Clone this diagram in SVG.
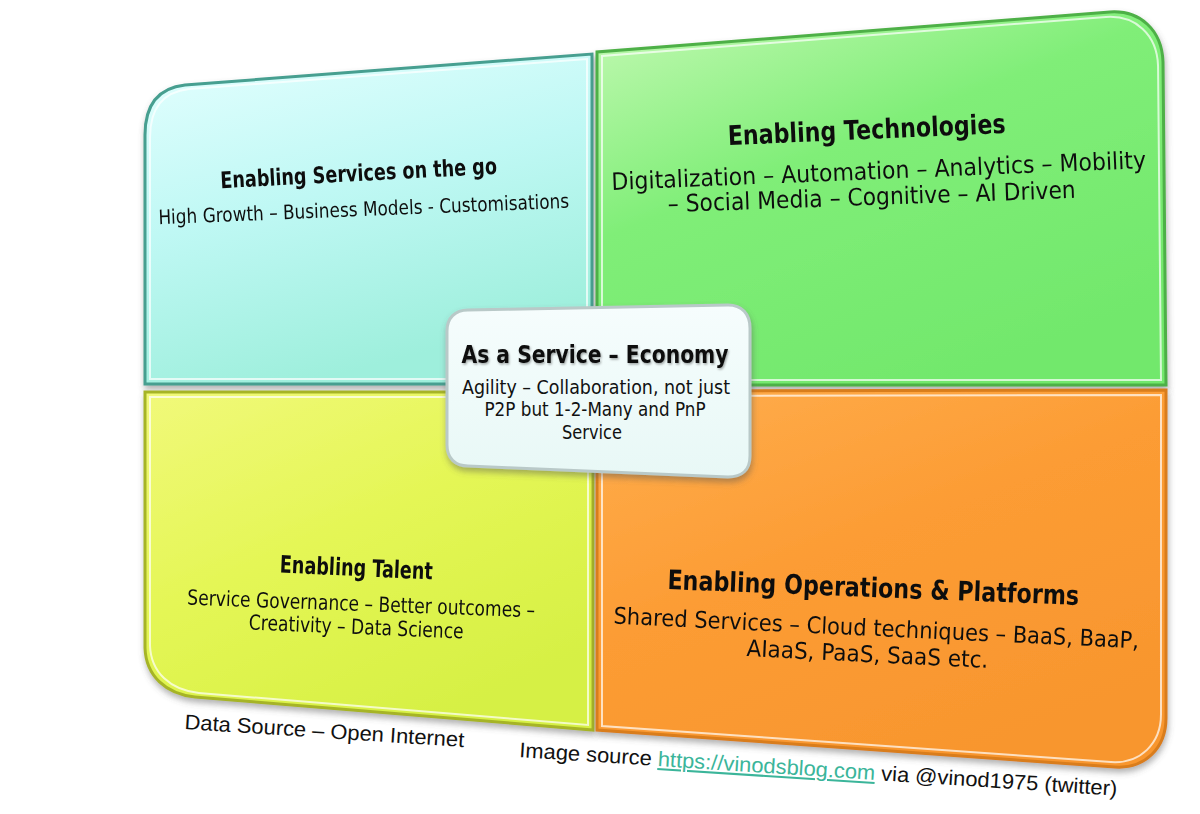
<svg xmlns="http://www.w3.org/2000/svg" width="1200" height="814" viewBox="0 0 1200 814">
  <defs>
    <linearGradient id="gCyan" x1="0" y1="0" x2="0.35" y2="1">
      <stop offset="0" stop-color="#e4ffff"/>
      <stop offset="0.5" stop-color="#bff8f4"/>
      <stop offset="1" stop-color="#9eefdc"/>
    </linearGradient>
    <linearGradient id="gGreen" x1="0" y1="0" x2="0.6" y2="1">
      <stop offset="0" stop-color="#c4f9b4"/>
      <stop offset="0.45" stop-color="#80ee78"/>
      <stop offset="1" stop-color="#72e86c"/>
    </linearGradient>
    <linearGradient id="gYellow" x1="0" y1="0" x2="0.6" y2="1">
      <stop offset="0" stop-color="#f1f97a"/>
      <stop offset="0.5" stop-color="#e4f655"/>
      <stop offset="1" stop-color="#d6f044"/>
    </linearGradient>
    <linearGradient id="gOrange" x1="0" y1="0" x2="0.6" y2="1">
      <stop offset="0" stop-color="#ffae4e"/>
      <stop offset="0.5" stop-color="#fc9c34"/>
      <stop offset="1" stop-color="#f8962e"/>
    </linearGradient>
    <linearGradient id="gCenter" x1="0" y1="0" x2="0" y2="1">
      <stop offset="0" stop-color="#f6fdfd"/>
      <stop offset="1" stop-color="#e8f8f6"/>
    </linearGradient>
    <filter id="shadow" x="-10%" y="-10%" width="120%" height="125%">
      <feDropShadow dx="1" dy="4" stdDeviation="3" flood-color="#555" flood-opacity="0.45"/>
    </filter>
    <filter id="tshadow" x="-5%" y="-20%" width="110%" height="150%">
      <feDropShadow dx="1" dy="1.5" stdDeviation="1" flood-color="#000" flood-opacity="0.35"/>
    </filter>
  </defs>
  <style>
    .hl { fill: none; stroke: #ffffff; stroke-opacity: 0.7; stroke-width: 2; }
    .title { font-family: "DejaVu Sans", "Noto Sans", sans-serif; font-weight: bold; fill: #111; }
    .body { font-family: "DejaVu Sans", "Noto Sans", sans-serif; fill: #111; }
    .cap { font-family: "Liberation Sans", Arial, sans-serif; font-size: 21px; fill: #111; }
    .link { fill: #3bb59a; text-decoration: underline; }
  </style>
  <rect width="1200" height="814" fill="#ffffff"/>

  <g id="connectors"/>

  <g id="node-services" filter="url(#shadow)">
    <path d="M145,384 L145,135 C145,105 158,88 185,85 L592,54 L592,384 Z" fill="url(#gCyan)" stroke="#469f90" stroke-width="3"/>
    <path class="hl" vector-effect="non-scaling-stroke" transform="translate(368.5 219) scale(0.9776 0.9697) translate(-368.5 -219)" d="M145,384 L145,135 C145,105 158,88 185,85 L592,54 L592,384 Z"/>
    <text class="title" font-size="23" x="359" y="181" text-anchor="middle" textLength="277" lengthAdjust="spacingAndGlyphs" transform="rotate(-3 359 181)">Enabling Services on the go</text>
    <text class="body" font-size="20" x="364" y="216" text-anchor="middle" textLength="411" lengthAdjust="spacingAndGlyphs" transform="rotate(-2.3 364 216)">High Growth – Business Models - Customisations</text>
  </g>

  <g id="node-technologies" filter="url(#shadow)">
    <path d="M597,385 L597,52 L1110,12 C1140,10 1162,30 1163,62 L1166,385 Z" fill="url(#gGreen)" stroke="#4eb046" stroke-width="3"/>
    <path class="hl" vector-effect="non-scaling-stroke" transform="translate(881.5 198.5) scale(0.9824 0.9732) translate(-881.5 -198.5)" d="M597,385 L597,52 L1110,12 C1140,10 1162,30 1163,62 L1166,385 Z"/>
    <text class="title" font-size="27" x="867" y="139" text-anchor="middle" textLength="278" lengthAdjust="spacingAndGlyphs" transform="rotate(-2.5 867 139)">Enabling Technologies</text>
    <text class="body" font-size="24" x="879" y="179" text-anchor="middle" textLength="535" lengthAdjust="spacingAndGlyphs" transform="rotate(-2.35 879 179)">Digitalization – Automation – Analytics – Mobility</text>
    <text class="body" font-size="24" x="872" y="205" text-anchor="middle" textLength="408" lengthAdjust="spacingAndGlyphs" transform="rotate(-2 872 205)">– Social Media – Cognitive – AI Driven</text>
  </g>

  <g id="node-talent" filter="url(#shadow)">
    <path d="M145,392 L593,392 L593,730 L195,697 C166,694 146,676 145,648 Z" fill="url(#gYellow)" stroke="#a6b428" stroke-width="3"/>
    <path class="hl" vector-effect="non-scaling-stroke" transform="translate(369 561) scale(0.9777 0.9704) translate(-369 -561)" d="M145,392 L593,392 L593,730 L195,697 C166,694 146,676 145,648 Z"/>
    <text class="title" font-size="24" x="356" y="576" text-anchor="middle" textLength="153" lengthAdjust="spacingAndGlyphs" transform="rotate(2.6 356 576)">Enabling Talent</text>
    <text class="body" font-size="21" x="361" y="611" text-anchor="middle" textLength="348" lengthAdjust="spacingAndGlyphs" transform="rotate(2.1 361 611)">Service Governance – Better outcomes –</text>
    <text class="body" font-size="21" x="356" y="634" text-anchor="middle" textLength="215" lengthAdjust="spacingAndGlyphs" transform="rotate(2.4 356 634)">Creativity – Data Science</text>
  </g>

  <g id="node-operations" filter="url(#shadow)">
    <path d="M597,391 L1166,390 L1166,718 C1166,748 1145,769 1115,767 L597,730 Z" fill="url(#gOrange)" stroke="#d97d1c" stroke-width="3"/>
    <path class="hl" vector-effect="non-scaling-stroke" transform="translate(881.5 579) scale(0.9824 0.9735) translate(-881.5 -579)" d="M597,391 L1166,390 L1166,718 C1166,748 1145,769 1115,767 L597,730 Z"/>
    <text class="title" font-size="27" x="873" y="597" text-anchor="middle" textLength="412" lengthAdjust="spacingAndGlyphs" transform="rotate(2.2 873 597)">Enabling Operations &amp; Platforms</text>
    <text class="body" font-size="23" x="876" y="636" text-anchor="middle" textLength="526" lengthAdjust="spacingAndGlyphs" transform="rotate(2.7 876 636)">Shared Services – Cloud techniques – BaaS, BaaP,</text>
    <text class="body" font-size="23" x="867" y="662" text-anchor="middle" textLength="242" lengthAdjust="spacingAndGlyphs" transform="rotate(2.8 867 662)">AIaaS, PaaS, SaaS etc.</text>
  </g>

  <g id="node-center">
    <path d="M468,310 L728,305 C742,305 750,314 750,328 L750,456 C750,470 742,477 728,477 L468,466 C455,466 447,458 447,445 L447,331 C447,318 455,310 468,310 Z" fill="url(#gCenter)" stroke="#b9c9c8" stroke-width="3" filter="url(#shadow)"/>
    <text class="title" font-size="25" x="595" y="363" text-anchor="middle" textLength="267" lengthAdjust="spacingAndGlyphs" filter="url(#tshadow)">As a Service – Economy</text>
    <text class="body" font-size="19" x="596" y="394" text-anchor="middle" textLength="268" lengthAdjust="spacingAndGlyphs">Agility – Collaboration, not just</text>
    <text class="body" font-size="19" x="595" y="416" text-anchor="middle" textLength="221" lengthAdjust="spacingAndGlyphs">P2P but 1-2-Many and PnP</text>
    <text class="body" font-size="19" x="592" y="439" text-anchor="middle" textLength="60" lengthAdjust="spacingAndGlyphs">Service</text>
  </g>

  <g id="captions">
    <text class="cap" x="324" y="738" text-anchor="middle" textLength="280" lengthAdjust="spacingAndGlyphs" transform="rotate(3.7 324 738)">Data Source – Open Internet</text>
    <text class="cap" x="519" y="757" textLength="599" lengthAdjust="spacingAndGlyphs" transform="rotate(3.7 519 757)">Image source <tspan class="link">https://vinodsblog.com</tspan> via @vinod1975 (twitter)</text>
  </g>
</svg>
